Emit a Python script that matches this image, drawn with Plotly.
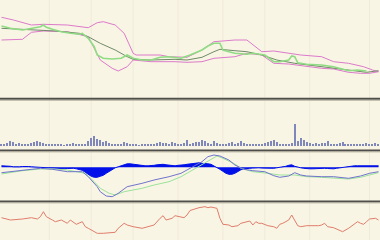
import plotly.graph_objects as go

# ---------------- data (day index based) ----------------
N_DAYS = 127
days = list(range(N_DAYS))

# Price panel (price level units)
upper_x = [0, 4, 10, 14, 22, 29, 32, 34, 38, 41, 44, 45, 53, 56, 62, 67, 71, 78, 82, 87, 91, 97, 100, 107, 111, 116, 121, 124, 126]
upper_v = [80.7, 78, 73, 73.7, 73, 70.3, 75.3, 76.3, 73, 64.7, 44.7, 43, 43, 41.3, 40.7, 48, 56.3, 58, 58, 46.3, 47, 44.7, 43, 41.3, 36.3, 34.7, 31.3, 28, 26.3]

lower_x = [0, 7, 10, 14, 22, 29, 33, 37, 39, 42, 44, 50, 58, 62, 67, 71, 78, 82, 87, 91, 96, 100, 107, 111, 116, 120, 123, 126]
lower_v = [58, 58.7, 65.7, 67, 66.3, 61.3, 38, 29.7, 27, 31.3, 38, 36.3, 36.3, 35.7, 36.3, 39.7, 41.3, 44.7, 43, 34.7, 34, 32.3, 29.7, 29, 25.7, 24.7, 24.7, 26.3]

ma_x = [0, 7, 11, 18, 26, 29, 33, 38, 42, 44, 50, 58, 62, 67, 71, 73, 78, 82, 87, 92, 98, 104, 111, 118, 122, 126]
ma_v = [69.7, 68.7, 68, 67, 64.7, 61.3, 54.7, 48, 41.3, 38.7, 38, 38.7, 38, 40.7, 46.3, 48.7, 47.3, 46.3, 43, 38, 34.7, 32.3, 29.7, 27, 25.7, 27.3]

price_x = [0, 3, 7, 10, 13, 14, 15, 17, 20, 23, 26, 27, 29, 31, 32, 34, 37, 40, 42, 44, 47, 50, 53, 56, 60, 63, 67, 69, 71, 73, 74, 76, 78, 82, 84, 88, 91, 93, 96, 97, 98, 99, 102, 107, 111, 116, 119, 122]
price_v = [72, 69.7, 68, 69.7, 71.3, 73, 70.7, 68.7, 66.3, 64.7, 63.7, 64.7, 59.7, 51.3, 43, 39.7, 39, 39.7, 43, 39.7, 38, 38, 40.7, 41.3, 39.7, 43, 48, 52, 54.7, 54.7, 48, 46.3, 44.7, 43.7, 44.7, 43, 36.3, 36.3, 38, 42, 41.3, 35.3, 33.7, 33, 31.3, 27.3, 28, 27]

# Volume panel
volume = [1, 2, 3, 5, 4, 2, 3, 2, 1, 2, 3, 4, 5, 4, 3, 1, 1, 1, 1, 1,
          1, 0.5, 1, 2, 3, 2, 1, 1, 2, 5, 8, 10, 7, 6, 4, 5, 3, 2, 1, 1,
          1, 4, 3, 1, 1, 1, 0.5, 1, 1, 1, 1, 2, 3, 4, 3, 3, 2, 4, 3, 2,
          1, 3, 6, 2, 3, 4, 4, 6, 5, 3, 2, 5, 3, 1, 2, 1, 3, 4, 2, 3,
          5, 3, 1, 1, 2, 1, 1, 2, 3, 4, 5, 6, 4, 2, 1, 1, 2, 3, 22, 5,
          8, 6, 4, 3, 2, 3, 2, 3, 3, 5, 1, 1, 2, 3, 4, 2, 1, 2, 1, 1,
          2, 1, 3, 1, 2, 3, 1]

# MACD panel
hist = [1.5, 1.5, 1.2, 1.0, 0.5, 0.3, 0.5, 0.8, 1.0, 0.8, 0.5, 0.3, 0, -0.3, -0.5, -0.5, -0.8, -1, -1, -1.2,
        -1.5, -1.5, -1.2, -1, -1, -1.5, -2, -3, -5, -7, -9, -10, -10, -9, -8, -6, -4, -2, -0.5, 0.5,
        1.5, 3, 3.5, 3.5, 3, 2.5, 2, 1.5, 1.5, 1.5, 1.5, 2, 2.5, 3, 3, 2.5, 2, 1.5, 1.5, 2,
        2, 2.5, 3, 3.5, 4, 4.5, 4.5, 4, 4, 3.5, 3, 1.5, 0, -2, -4, -6, -7, -7, -6, -4,
        -2.5, -1.5, -1, -1, -0.8, -0.5, -0.5, -0.8, -1, -1, -1.2, -1, -0.5, 0, 0, 1, 2, 2.5, 1, 0,
        -0.5, -1, -1.5, -1.5, -1.5, -1.2, -1, -1, -1, -1.2, -1.5, -1.5, -1, -0.5, 0, 0.5, 1, 1.2, 1.5, 1.5,
        1.5, 1.2, 1, 1, 1.2, 1.5, 1.5]

macd_x = [0, 7, 13, 17, 22, 27, 29, 32, 33, 35, 37, 39, 42, 47, 51, 56, 60, 63, 67, 69, 71, 73, 76, 78, 81, 84, 88, 91, 93, 96, 98, 100, 102, 107, 111, 116, 120, 123, 126]
macd_v = [-5.4, -2.7, -1, -2, -4.4, -4.4, -9.4, -19.4, -24.4, -28.7, -29.4, -26, -19.4, -16, -12.7, -9.4, -6, -1, 5.6, 10.6, 12.3, 11.3, 7.3, 2.3, -2, -3.4, -4.4, -8.4, -10, -8.7, -5.4, -7.7, -8.7, -9.4, -9.4, -11, -8.7, -6, -4.4]

signal_x = [0, 7, 13, 18, 22, 28, 31, 33, 36, 38, 41, 47, 51, 56, 60, 63, 67, 70, 72, 74, 78, 80, 84, 89, 93, 98, 102, 107, 111, 116, 120, 123, 126]
signal_v = [-6.7, -3.4, -1.7, -1.7, -2.7, -6, -14.4, -21, -26, -27.7, -24.4, -21, -17.7, -14.4, -9.4, -4.4, 2.3, 8, 11.3, 9, 3.3, -1, -4.4, -6, -7.7, -7.7, -9.4, -10, -11, -11.7, -10, -7.7, -5.4]

# RSI panel
rsi_x = [0, 3, 7, 10, 12, 13, 14, 15, 17, 18, 20, 22, 23, 25, 27, 28, 29, 32, 34, 38, 39, 41, 42, 44, 47, 49, 51, 53, 54, 55,
         57, 58, 61, 62, 63, 66, 68, 69, 70, 72, 73, 74, 76, 77, 79, 80, 82, 83, 84, 85, 86, 87, 89, 91, 92, 93, 94, 96, 97, 98,
         99, 100, 102, 106, 107, 108, 109, 111, 113, 114, 116, 118, 119, 120, 121, 122, 123, 125, 126]
rsi_v = [22.3, 20, 21, 22.3, 21, 23.3, 28.3, 23.3, 20, 18.3, 20, 16.7, 20, 15.7, 18.3, 13.3, 11.7, 6.7, 6.7, 7.7, 11.7, 16.7, 15, 13.3, 11.7, 13.3, 15, 21.7, 24.3, 20,
         21.7, 24.3, 22.3, 25, 29.5, 32.3, 33.3, 32.3, 33, 31.7, 21.7, 15.7, 15, 13.3, 14.3, 16.7, 18.3, 19, 15, 18.3, 16.7, 16.7, 14.3, 13.3, 11.7, 15.7, 16.7, 20, 25, 20,
         14.3, 13.3, 14.3, 14.3, 15, 16.7, 13.3, 12.3, 10, 8.3, 11.7, 16.7, 18.3, 16.7, 15.7, 18.3, 21, 21.7, 20]

grid_days = [16, 30, 44, 59, 74, 88, 103, 123]

# ---------------- figure ----------------
W, H = 380, 240
BG = "#f9f5e4"
PINK = "#dc7acb"
GREEN = "#8fdc84"
MA = "#708a68"

fig = go.Figure()

# price panel
fig.add_trace(go.Scatter(x=upper_x, y=upper_v, mode="lines", line=dict(color=PINK, width=1), xaxis="x", yaxis="y"))
fig.add_trace(go.Scatter(x=lower_x, y=lower_v, mode="lines", line=dict(color=PINK, width=1), xaxis="x", yaxis="y"))
fig.add_trace(go.Scatter(x=ma_x, y=ma_v, mode="lines", line=dict(color=MA, width=1), xaxis="x", yaxis="y"))
fig.add_trace(go.Scatter(x=price_x, y=price_v, mode="lines", line=dict(color=GREEN, width=1.6), xaxis="x", yaxis="y"))

# volume panel
fig.add_trace(go.Bar(x=days, y=volume, marker=dict(color="#8088bb", line=dict(width=0)), width=0.4,
                     xaxis="x2", yaxis="y2"))

# MACD panel
fig.add_trace(go.Scatter(x=days, y=hist, mode="lines", fill="tozeroy", fillcolor="#0010e8",
                         line=dict(color="#0010e8", width=1), xaxis="x3", yaxis="y3"))
fig.add_trace(go.Scatter(x=signal_x, y=signal_v, mode="lines", line=dict(color="#9be39b", width=1), xaxis="x3", yaxis="y3"))
fig.add_trace(go.Scatter(x=macd_x, y=macd_v, mode="lines", line=dict(color="#6f73cc", width=1), xaxis="x3", yaxis="y3"))

# RSI panel
fig.add_trace(go.Scatter(x=rsi_x, y=rsi_v, mode="lines", line=dict(color="#e07d6c", width=1), xaxis="x4", yaxis="y4"))

xcommon = dict(range=[-0.5, N_DAYS - 0.5], showgrid=False, zeroline=False, showticklabels=False,
               ticks="", showline=False, fixedrange=True)
ycommon = dict(showgrid=False, zeroline=False, showticklabels=False, ticks="", showline=False, fixedrange=True)

def ydom(top_px, bot_px):
    return [1 - bot_px / H, 1 - top_px / H]

fig.update_layout(
    width=W, height=H, autosize=False,
    margin=dict(l=0, r=0, t=0, b=0, pad=0),
    paper_bgcolor=BG, plot_bgcolor="rgba(0,0,0,0)",
    showlegend=False, bargap=0,
    xaxis=dict(**xcommon, anchor="y"),
    xaxis2=dict(**xcommon, anchor="y2", matches="x"),
    xaxis3=dict(**xcommon, anchor="y3", matches="x"),
    xaxis4=dict(**xcommon, anchor="y4", matches="x"),
    yaxis=dict(**ycommon, domain=ydom(0, 98), range=[0, 98]),
    yaxis2=dict(**ycommon, domain=ydom(100, 150), range=[-4.5, 45.5]),
    yaxis3=dict(**ycommon, domain=ydom(152, 200), range=[-32.7, 15.3]),
    yaxis4=dict(**ycommon, domain=ydom(203, 240), range=[0, 37]),
)

shapes = []
for d in grid_days:
    shapes.append(dict(type="line", xref="x", yref="paper", x0=d, x1=d, y0=0, y1=1,
                       line=dict(color="#efeada", width=1), layer="below"))
for ypx in [98.8, 150.4, 201.4]:
    shapes.append(dict(type="line", xref="paper", yref="paper", x0=0, x1=1,
                       y0=1 - ypx / H, y1=1 - ypx / H, line=dict(color="#4e4e4a", width=2)))
    shapes.append(dict(type="line", xref="paper", yref="paper", x0=0, x1=1,
                       y0=1 - (ypx + 1.5) / H, y1=1 - (ypx + 1.5) / H, line=dict(color="#b8b4a4", width=1)))
fig.update_layout(shapes=shapes)

fig.write_html("out.html", config={"displayModeBar": False})
